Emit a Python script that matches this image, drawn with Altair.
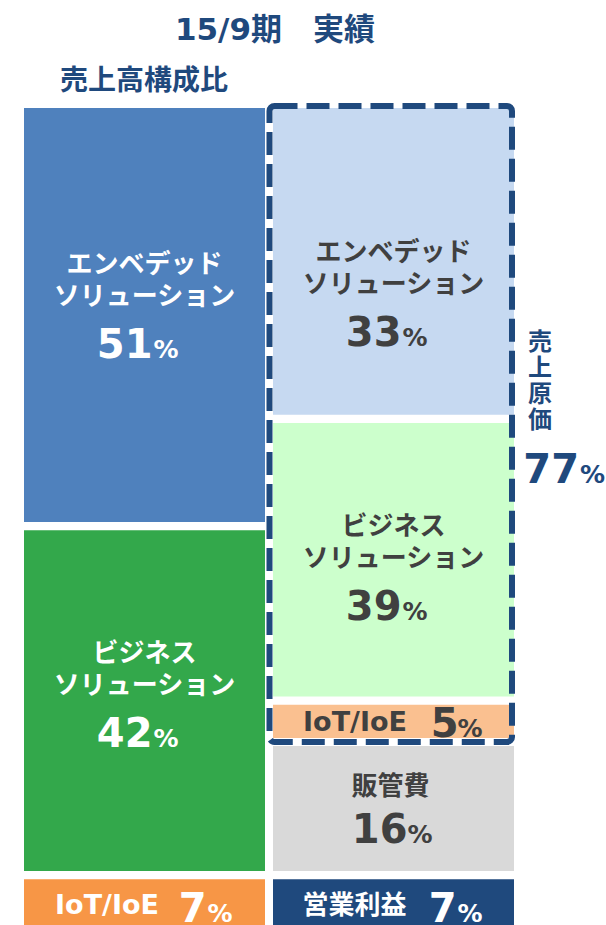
import altair as alt
import pandas as pd

# ---------------- data ----------------
title_text = "15/9期　実績"
subtitle_text = "売上高構成比"

left_line1 = ["エンベデッド", "ビジネス", "IoT/IoE"]
left_line2 = ["ソリューション", "ソリューション", ""]
left_values = [51, 42, 7]

right_line1 = ["エンベデッド", "ビジネス", "IoT/IoE", "販管費", "営業利益"]
right_line2 = ["ソリューション", "ソリューション", "", "", ""]
right_values = [33, 39, 5, 16, 7]
# block heights as drawn in the source (right column is not drawn to scale)
right_drawn = [37.8, 33.7, 4.1, 15.4, 7.0]

cost_chars = ["売", "上", "原", "価"]
cost_value = 77

# ---------------- styles ----------------
NAVY = "#1f497d"
DARK = "#404040"
FONT = "DejaVu Sans, Noto Sans CJK JP"
left_fill = ["#4f81bd", "#33a84b", "#f79646"]
left_text = ["white", "white", "white"]
right_fill = ["#c6d9f1", "#ccffcc", "#fac090", "#d9d9d9", NAVY]
right_text = [DARK, DARK, DARK, DARK, "white"]
GAP = 1.0
COLW = 1.0
COLGAP = 0.0332

rows = []
for col, l1, l2, vals, drawn, fills, tcols, xs0 in [
    ("L", left_line1, left_line2, left_values, left_values, left_fill, left_text, 0.0),
    ("R", right_line1, right_line2, right_values, right_drawn, right_fill, right_text, COLW + COLGAP),
]:
    start = 0.0
    for i, (a, b, v, h, f, t) in enumerate(zip(l1, l2, vals, drawn, fills, tcols)):
        rows.append(dict(col=col, idx=i, line1=a, line2=b, num=str(v), pct="%",
                         x0=xs0, x1=xs0 + COLW, xc=xs0 + COLW / 2,
                         y0=start, y1=start + h, yc=start + h / 2,
                         fill=f, tcolor=t))
        start = start + h + GAP
seg = pd.DataFrame(rows)

xscale = alt.Scale(domain=[0, 2 * COLW + COLGAP], nice=False, zero=False)
yscale = alt.Scale(domain=[0, 100.64], nice=False, zero=False, reverse=True)

rects = alt.Chart(seg).mark_rect(clip=True).encode(
    x=alt.X("x0:Q", scale=xscale, axis=None),
    x2="x1:Q",
    y=alt.Y("y0:Q", scale=yscale, axis=None),
    y2="y1:Q",
    color=alt.Color("fill:N", scale=None),
)

r_rows = seg[seg.col == "R"].reset_index(drop=True)
box_df = pd.DataFrame({"x0": [r_rows.x0[0]], "x1": [r_rows.x1[0]],
                       "y0": [r_rows.y0[0]], "y1": [r_rows.y1[2]]})
box = alt.Chart(box_df).mark_rect(
    fillOpacity=0, stroke=NAVY, strokeWidth=6, strokeDash=[23, 9], cornerRadius=5,
    xOffset=-3.5, x2Offset=-2, yOffset=-2, y2Offset=4,
).encode(
    x=alt.X("x0:Q", scale=xscale, axis=None), x2="x1:Q",
    y=alt.Y("y0:Q", scale=yscale, axis=None), y2="y1:Q",
)


def txt(df, field, size, align, baseline, dx, dy, x="xc", y="yc", color=None):
    kw = dict(font=FONT, fontWeight="bold", fontSize=size, align=align,
              baseline=baseline, dx=dx, dy=dy)
    if color is not None:
        kw["color"] = color
    enc = dict(x=alt.X(f"{x}:Q", scale=xscale, axis=None),
               y=alt.Y(f"{y}:Q", scale=yscale, axis=None),
               text=alt.Text(f"{field}:N"))
    if color is None:
        enc["color"] = alt.Color("tcolor:N", scale=None)
    return alt.Chart(df).mark_text(**kw).encode(**enc)


layers = [rects, box]

# stacked labels: two text lines above a big number
STACK = {("L", 0): 43, ("R", 0): 84.5, ("L", 1): 46, ("R", 1): 60}
for (col, i), nb in STACK.items():
    r = seg[(seg.col == col) & (seg.idx == i)]
    layers += [
        txt(r, "line1", 26, "center", "middle", 0, nb - 93),
        txt(r, "line2", 26, "center", "middle", 0, nb - 61),
        txt(r, "num", 40, "right", "alphabetic", 8, nb),
        txt(r, "pct", 25, "left", "alphabetic", 9, nb),
    ]

# inline labels
INLINE = {
    ("R", 2): dict(na="right", nb_="alphabetic", ndx=13.5, ndy=9.5, ns=27, mdx=65, mdy=15.5, pdx=64, pdy=15.5),
    ("L", 2): dict(na="right", nb_="alphabetic", ndx=14.5, ndy=6, ns=27, mdx=62, mdy=14.5, pdx=63, pdy=14.5),
    ("R", 4): dict(na="right", nb_="middle", ndx=13, ndy=-1.5, ns=26, mdx=63, mdy=14.5, pdx=64, pdy=14.5),
    ("R", 3): dict(na="center", nb_="middle", ndx=-3, ndy=-21.5, ns=26, mdx=14, mdy=34.5, pdx=14, pdy=34.5),
}
for (col, i), s in INLINE.items():
    r = seg[(seg.col == col) & (seg.idx == i)]
    layers += [
        txt(r, "line1", s["ns"], s["na"], s["nb_"], s["ndx"], s["ndy"]),
        txt(r, "num", 40, "right", "alphabetic", s["mdx"], s["mdy"]),
        txt(r, "pct", 25, "left", "alphabetic", s["pdx"], s["pdy"]),
    ]

# cost of sales annotation (right of the dashed box)
anchor = pd.DataFrame({"ax": [r_rows.x1[0]], "ay": [r_rows.y1[0]],
                       "num": [str(cost_value)], "pct": ["%"]})
for ch, dy in zip(cost_chars, [-72, -46, -20, 6]):
    a = anchor.assign(ch=ch)
    layers.append(txt(a, "ch", 24, "center", "middle", 26, dy, x="ax", y="ay", color=NAVY))
layers.append(txt(anchor, "num", 40, "right", "alphabetic", 65, 68, x="ax", y="ay", color=NAVY))
layers.append(txt(anchor, "pct", 25, "left", "alphabetic", 66, 68, x="ax", y="ay", color=NAVY))

# titles
tdf = pd.DataFrame({"t": [title_text], "s": [subtitle_text]})
layers.append(alt.Chart(tdf).mark_text(font=FONT, fontWeight="bold", fontSize=31, color=NAVY,
                                       align="center", baseline="alphabetic").encode(
    x=alt.value(251), y=alt.value(-68), text="t:N"))
layers.append(alt.Chart(tdf).mark_text(font=FONT, fontWeight="bold", fontSize=28, color=NAVY,
                                       align="left", baseline="middle").encode(
    x=alt.value(36), y=alt.value(-26), text="s:N"))

chart = alt.layer(*layers).properties(
    width=490, height=817,
    padding={"left": 24, "top": 108, "right": 92, "bottom": 0},
    autosize=alt.AutoSizeParams(type="none"),
    background="white",
).configure_view(stroke=None)

chart.save("out.html", embed_options={"renderer": "svg", "actions": False})
